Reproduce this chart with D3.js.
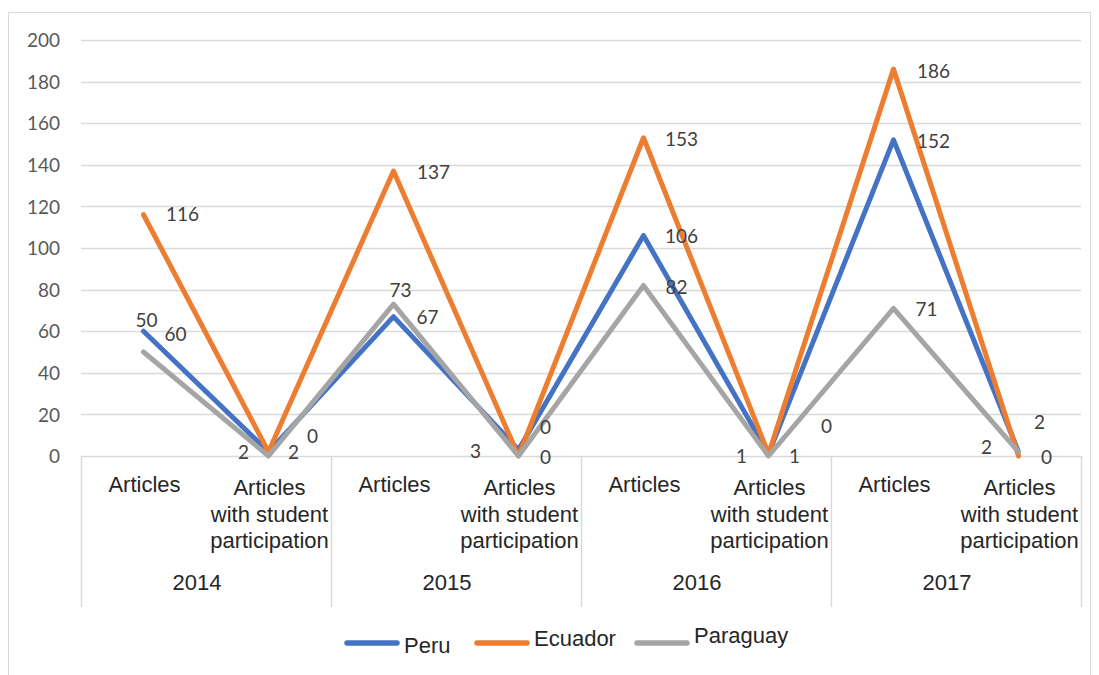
<!DOCTYPE html>
<html>
<head>
<meta charset="utf-8">
<script src="https://cdn.jsdelivr.net/npm/d3@7"></script>
<style>
  html, body { margin: 0; padding: 0; background: #ffffff; }
  svg { display: block; }
</style>
</head>
<body>
<svg id="chart" width="1099" height="675"></svg>
<script>
// ---- data ----
const years = ["2014", "2015", "2016", "2017"];
const measures = ["Articles", "Articles with student participation"];
const measureLines = [["Articles"], ["Articles", "with student", "participation"]];
const seriesNames = ["Peru", "Ecuador", "Paraguay"];
const peru = [60, 2, 67, 3, 106, 1, 152, 2];
const ecuador = [116, 2, 137, 0, 153, 1, 186, 0];
const paraguay = [50, 0, 73, 0, 82, 0, 71, 2];
const yTicks = [0, 20, 40, 60, 80, 100, 120, 140, 160, 180, 200];

// ---- layout ----
const plot = { left: 81, right: 1081, top: 40, bottom: 456 };
const colors = ["#4472C4", "#ED7D31", "#A5A5A5"];
const numFont = "Lato, 'Open Sans', sans-serif";
const txtFont = "'Liberation Sans', Arial, sans-serif";

// hand-placed data label offsets (label centre relative to the point), per series
const labelOffsets = [
  [[32, 3], [-25, 1], [34, 1], [-43, 2], [38, 1], [-27, 2], [40, 2], [-32, -4]],
  [[39, 0], [25, 1], [40, 1], [27, 1], [38, 2], [26, 2], [40, 2], [28, 1]],
  [[3, -32], [44, -20], [7, -14], [27, -29], [33, 2], [58, -30], [33, 1], [21, -29]]
];

const categories = years.flatMap(y => measures.map(m => y + "|" + m));
const seriesData = [peru, ecuador, paraguay];

const svg = d3.select("#chart");

// outer chart frame
svg.append("rect")
  .attr("x", 8.5).attr("y", 12.5)
  .attr("width", 1082).attr("height", 680)
  .attr("fill", "#ffffff")
  .attr("stroke", "#d9d9d9").attr("stroke-width", 1);

const x = d3.scalePoint().domain(categories).range([plot.left, plot.right]).padding(0.5);
const y = d3.scaleLinear().domain([0, 200]).range([plot.bottom, plot.top]);

// horizontal gridlines
svg.append("g").selectAll("line").data(yTicks.filter(t => t > 0)).join("line")
  .attr("x1", plot.left).attr("x2", plot.right)
  .attr("y1", d => Math.round(y(d)) + 0.5).attr("y2", d => Math.round(y(d)) + 0.5)
  .attr("stroke", "#d9d9d9").attr("stroke-width", 1.5);

// y axis labels
const yAxis = d3.axisLeft(y).tickValues(yTicks).tickSize(0).tickPadding(0);
const yg = svg.append("g").attr("transform", `translate(${60},0)`).call(yAxis);
yg.select(".domain").remove();
yg.selectAll("text")
  .attr("font-family", numFont).attr("font-size", 19)
  .attr("fill", "#595959").attr("dy", "0.35em");

// category axis line
svg.append("line")
  .attr("x1", plot.left).attr("x2", plot.right)
  .attr("y1", plot.bottom + 0.5).attr("y2", plot.bottom + 0.5)
  .attr("stroke", "#d9d9d9").attr("stroke-width", 1.5);

// group separators of the two-level axis
const step = x.step();
const groupEdges = d3.range(years.length + 1).map(i => plot.left + i * step * measures.length);
svg.append("g").selectAll("line").data(groupEdges).join("line")
  .attr("x1", d => d + 0.5).attr("x2", d => d + 0.5)
  .attr("y1", plot.bottom).attr("y2", 607)
  .attr("stroke", "#d9d9d9").attr("stroke-width", 1.5);

// inner category labels
const catG = svg.append("g").attr("font-family", txtFont).attr("font-size", 22)
  .attr("fill", "#262626").attr("text-anchor", "middle");
categories.forEach((c, i) => {
  const lines = measureLines[i % measures.length];
  const baseY = lines.length === 1 ? 492 : 495;
  const t = catG.append("text").attr("x", x(c) + 1).attr("y", baseY);
  lines.forEach((ln, k) => {
    t.append("tspan").attr("x", x(c) + 1).attr("y", baseY + k * 26.5).text(ln);
  });
});

// outer year labels
svg.append("g").selectAll("text").data(years).join("text")
  .attr("x", (d, i) => (groupEdges[i] + groupEdges[i + 1]) / 2 - 9)
  .attr("y", 590)
  .attr("text-anchor", "middle")
  .attr("font-family", txtFont).attr("font-size", 22).attr("fill", "#262626")
  .text(d => d);

// series lines
const line = d3.line().x((d, i) => x(categories[i])).y(d => y(d));
svg.append("g").selectAll("path").data(seriesData).join("path")
  .attr("d", d => line(d))
  .attr("fill", "none")
  .attr("stroke", (d, i) => colors[i])
  .attr("stroke-width", 5)
  .attr("stroke-linejoin", "round")
  .attr("stroke-linecap", "round");

// data labels
const lblG = svg.append("g").attr("font-family", numFont).attr("font-size", 19)
  .attr("fill", "#404040").attr("text-anchor", "middle");
seriesData.forEach((vals, s) => {
  vals.forEach((v, i) => {
    const [dx, dy] = labelOffsets[s][i];
    lblG.append("text")
      .attr("x", x(categories[i]) + dx)
      .attr("y", y(v) + dy)
      .attr("dy", "0.35em")
      .text(v);
  });
});

// legend
const legendItems = [
  { name: seriesNames[0], x: 345 },
  { name: seriesNames[1], x: 475 },
  { name: seriesNames[2], x: 635 }
];
const lg = svg.append("g");
legendItems.forEach((it, i) => {
  lg.append("line")
    .attr("x1", it.x + 2).attr("x2", it.x + 52)
    .attr("y1", 643).attr("y2", 643)
    .attr("stroke", colors[i]).attr("stroke-width", 5.5)
    .attr("stroke-linecap", "round");
  lg.append("text")
    .attr("x", it.x + 59).attr("y", [645, 638, 635][i])
    .attr("dy", "0.35em")
    .attr("font-family", txtFont).attr("font-size", 22).attr("fill", "#262626")
    .text(it.name);
});
</script>
</body>
</html>
